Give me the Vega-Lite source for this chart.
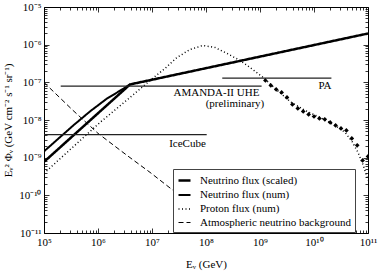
{
  "$schema": "https://vega.github.io/schema/vega-lite/v6.json",
  "width": 324,
  "height": 226,
  "autosize": "none",
  "padding": {"left": 44, "top": 7, "right": 11, "bottom": 40},
  "background": "white",
  "config": {
    "view": {"stroke": "black", "strokeWidth": 1},
    "font": "Liberation Serif",
    "axis": {
      "domain": false,
      "grid": false,
      "tickColor": "black",
      "tickWidth": 0.8,
      "labelColor": "black",
      "labelFont": "Liberation Serif",
      "labelFontSize": 11,
      "titleFont": "Liberation Serif",
      "titleFontSize": 11,
      "titleFontWeight": "normal",
      "titleColor": "black"
    }
  },
  "datasets": {
    "curves": [
      {"series": "Neutrino flux (scaled)", "E": 1e5, "F": 7.74e-10},
      {"series": "Neutrino flux (scaled)", "E": 3.92e6, "F": 8.79e-8},
      {"series": "Neutrino flux (scaled)", "E": 1e11, "F": 1.98e-6},
      {"series": "Neutrino flux (num)", "E": 1e5, "F": 1.47e-9},
      {"series": "Neutrino flux (num)", "E": 3.49e5, "F": 7.19e-9},
      {"series": "Neutrino flux (num)", "E": 7.11e5, "F": 1.69e-8},
      {"series": "Neutrino flux (num)", "E": 1.45e6, "F": 3.67e-8},
      {"series": "Neutrino flux (num)", "E": 2.94e6, "F": 6.76e-8},
      {"series": "Neutrino flux (num)", "E": 3.92e6, "F": 8.79e-8},
      {"series": "Proton flux (num)", "E": 1e5, "F": 3.84e-10},
      {"series": "Proton flux (num)", "E": 1.09e6, "F": 8.63e-9},
      {"series": "Proton flux (num)", "E": 3.92e6, "F": 3.97e-8},
      {"series": "Proton flux (num)", "E": 9.19e6, "F": 1.12e-7},
      {"series": "Proton flux (num)", "E": 1.74e7, "F": 2.34e-7},
      {"series": "Proton flux (num)", "E": 2.9e7, "F": 4.57e-7},
      {"series": "Proton flux (num)", "E": 5.06e7, "F": 7.46e-7},
      {"series": "Proton flux (num)", "E": 8.8e7, "F": 9.53e-7},
      {"series": "Proton flux (num)", "E": 1.47e8, "F": 8.43e-7},
      {"series": "Proton flux (num)", "E": 2.45e8, "F": 5.85e-7},
      {"series": "Proton flux (num)", "E": 4.26e8, "F": 3.81e-7},
      {"series": "Proton flux (num)", "E": 6.53e8, "F": 2.48e-7},
      {"series": "Proton flux (num)", "E": 1.14e9, "F": 1.35e-7},
      {"series": "Proton flux (num)", "E": 1.9e9, "F": 6.89e-8},
      {"series": "Proton flux (num)", "E": 3.59e9, "F": 3.11e-8},
      {"series": "Proton flux (num)", "E": 6.81e9, "F": 1.8e-8},
      {"series": "Proton flux (num)", "E": 1.29e10, "F": 1.17e-8},
      {"series": "Proton flux (num)", "E": 2.45e10, "F": 7.19e-9},
      {"series": "Proton flux (num)", "E": 3.75e10, "F": 4.69e-9},
      {"series": "Proton flux (num)", "E": 5.06e10, "F": 2.7e-9},
      {"series": "Proton flux (num)", "E": 6.53e10, "F": 1.38e-9},
      {"series": "Proton flux (num)", "E": 8.08e10, "F": 6.64e-10},
      {"series": "Proton flux (num)", "E": 1e11, "F": 2.5e-10},
      {"series": "Atmospheric neutrino background", "E": 1e5, "F": 9.93e-8},
      {"series": "Atmospheric neutrino background", "E": 3.44e5, "F": 1.8e-8},
      {"series": "Atmospheric neutrino background", "E": 1e6, "F": 4.42e-9},
      {"series": "Atmospheric neutrino background", "E": 3.44e6, "F": 1.15e-9},
      {"series": "Atmospheric neutrino background", "E": 9.19e6, "F": 4.07e-10},
      {"series": "Atmospheric neutrino background", "E": 2.45e7, "F": 1.36e-10},
      {"series": "Atmospheric neutrino background", "E": 4.26e8, "F": 1.04e-11},
      {"series": "Atmospheric neutrino background", "E": 6.53e8, "F": 6.4e-12}
    ],
    "refs": [
      {"ref": "AMANDA", "E": 2.04e5, "F": 7.9e-8},
      {"ref": "AMANDA", "E": 1.07e9, "F": 7.9e-8},
      {"ref": "PA", "E": 2e8, "F": 1.29e-7},
      {"ref": "PA", "E": 2.1e10, "F": 1.29e-7},
      {"ref": "IceCube", "E": 1e5, "F": 4.07e-9},
      {"ref": "IceCube", "E": 1.03e8, "F": 4.07e-9}
    ],
    "labels": [
      {"label": "AMANDA-II UHE", "E": 1.56e8, "F": 5.08e-8},
      {"label": "(preliminary)", "E": 3.44e8, "F": 2.59e-8},
      {"label": "PA", "E": 1.6e10, "F": 8.04e-8},
      {"label": "IceCube", "E": 4.54e7, "F": 2.35e-9}
    ],
    "points": [
      {"E": 1.259e9, "F": 1.12e-7},
      {"E": 1.585e9, "F": 8.28e-8},
      {"E": 1.995e9, "F": 6.49e-8},
      {"E": 2.512e9, "F": 5.4e-8},
      {"E": 3.162e9, "F": 3.98e-8},
      {"E": 3.981e9, "F": 2.59e-8},
      {"E": 5.012e9, "F": 2.03e-8},
      {"E": 6.31e9, "F": 1.69e-8},
      {"E": 7.943e9, "F": 1.41e-8},
      {"E": 1e10, "F": 1.24e-8},
      {"E": 1.259e10, "F": 1.1e-8},
      {"E": 1.585e10, "F": 1.04e-8},
      {"E": 1.995e10, "F": 8.63e-9},
      {"E": 2.512e10, "F": 7.19e-9},
      {"E": 3.162e10, "F": 5.98e-9},
      {"E": 3.981e10, "F": 5.3e-9},
      {"E": 5.012e10, "F": 3.25e-9},
      {"E": 6.31e10, "F": 2.12e-9},
      {"E": 7.943e10, "F": 8.47e-10},
      {"E": 1e11, "F": 1.08e-9}
    ]
  },
  "resolve": {"axis": {"x": "independent", "y": "independent"}},
  "layer": [
    {
      "data": {"name": "curves"},
      "mark": {"type": "line", "color": "black", "clip": true},
      "encoding": {
        "x": {
          "field": "E", "type": "quantitative",
          "scale": {"type": "log", "domain": [1e5, 1e11], "nice": false},
          "axis": {
            "orient": "bottom",
            "title": "Eᵥ (GeV)",
            "titlePadding": 11,
            "values": [1e5,2e5,3e5,4e5,5e5,6e5,7e5,8e5,9e5,1e6,2e6,3e6,4e6,5e6,6e6,7e6,8e6,9e6,1e7,2e7,3e7,4e7,5e7,6e7,7e7,8e7,9e7,1e8,2e8,3e8,4e8,5e8,6e8,7e8,8e8,9e8,1e9,2e9,3e9,4e9,5e9,6e9,7e9,8e9,9e9,1e10,2e10,3e10,4e10,5e10,6e10,7e10,8e10,9e10,1e11],
            "tickSize": {"condition": {"test": "abs(log(datum.value)/LN10-round(log(datum.value)/LN10))<0.001", "value": -5}, "value": -3},
            "labelPadding": 8,
            "labelFlush": false,
            "labelExpr": "abs(log(datum.value)/LN10-round(log(datum.value)/LN10))<0.001 ? ('10' + (round(log(datum.value)/LN10)==5?'⁵':round(log(datum.value)/LN10)==6?'⁶':round(log(datum.value)/LN10)==7?'⁷':round(log(datum.value)/LN10)==8?'⁸':round(log(datum.value)/LN10)==9?'⁹':round(log(datum.value)/LN10)==10?'¹⁰':'¹¹')) : ''"
          }
        },
        "y": {
          "field": "F", "type": "quantitative",
          "scale": {"type": "log", "domain": [1e-11, 1e-5], "nice": false},
          "axis": {
            "orient": "left",
            "title": "Eᵥ² Φᵥ (GeV cm⁻² s⁻¹ sr⁻¹)",
            "titlePadding": 5,
            "values": [1e-11,2e-11,3e-11,4e-11,5e-11,6e-11,7e-11,8e-11,9e-11,1e-10,2e-10,3e-10,4e-10,5e-10,6e-10,7e-10,8e-10,9e-10,1e-9,2e-9,3e-9,4e-9,5e-9,6e-9,7e-9,8e-9,9e-9,1e-8,2e-8,3e-8,4e-8,5e-8,6e-8,7e-8,8e-8,9e-8,1e-7,2e-7,3e-7,4e-7,5e-7,6e-7,7e-7,8e-7,9e-7,1e-6,2e-6,3e-6,4e-6,5e-6,6e-6,7e-6,8e-6,9e-6,1e-5],
            "tickSize": {"condition": {"test": "abs(log(datum.value)/LN10-round(log(datum.value)/LN10))<0.001", "value": -5}, "value": -3},
            "labelPadding": 8,
            "labelFlush": false,
            "labelExpr": "abs(log(datum.value)/LN10-round(log(datum.value)/LN10))<0.001 ? ('10' + (round(log(datum.value)/LN10)==-5?'⁻⁵':round(log(datum.value)/LN10)==-6?'⁻⁶':round(log(datum.value)/LN10)==-7?'⁻⁷':round(log(datum.value)/LN10)==-8?'⁻⁸':round(log(datum.value)/LN10)==-9?'⁻⁹':round(log(datum.value)/LN10)==-10?'⁻¹⁰':'⁻¹¹')) : ''"
          }
        },
        "strokeDash": {
          "field": "series", "type": "nominal",
          "scale": {
            "domain": ["Neutrino flux (scaled)", "Neutrino flux (num)", "Proton flux (num)", "Atmospheric neutrino background"],
            "range": [[1, 0], [1, 0], [1, 2.5], [5, 3]]
          },
          "legend": {
            "title": null,
            "orient": "none",
            "legendX": 129,
            "legendY": 162,
            "fillColor": "white",
            "strokeColor": "#444",
            "padding": 4,
            "rowPadding": 2,
            "symbolType": "stroke",
            "symbolSize": 144,
            "symbolStrokeColor": "black",
            "labelFont": "Liberation Serif",
            "labelFontSize": 11,
            "labelColor": "black",
            "labelOffset": 8
          }
        },
        "strokeWidth": {
          "field": "series", "type": "nominal",
          "scale": {
            "domain": ["Neutrino flux (scaled)", "Neutrino flux (num)", "Proton flux (num)", "Atmospheric neutrino background"],
            "range": [2.5, 1, 1, 1]
          },
          "legend": {
            "title": null,
            "orient": "none",
            "legendX": 129,
            "legendY": 162,
            "fillColor": "white",
            "strokeColor": "#444",
            "padding": 4,
            "rowPadding": 2,
            "symbolType": "stroke",
            "symbolSize": 144,
            "symbolStrokeColor": "black",
            "labelFont": "Liberation Serif",
            "labelFontSize": 11,
            "labelColor": "black",
            "labelOffset": 8
          }
        }
      }
    },
    {
      "data": {"name": "refs"},
      "mark": {"type": "line", "color": "#222", "strokeWidth": 1.2},
      "encoding": {
        "x": {
          "field": "E", "type": "quantitative",
          "axis": {
            "orient": "top",
            "title": null,
            "labels": false,
            "values": [1e5,2e5,3e5,4e5,5e5,6e5,7e5,8e5,9e5,1e6,2e6,3e6,4e6,5e6,6e6,7e6,8e6,9e6,1e7,2e7,3e7,4e7,5e7,6e7,7e7,8e7,9e7,1e8,2e8,3e8,4e8,5e8,6e8,7e8,8e8,9e8,1e9,2e9,3e9,4e9,5e9,6e9,7e9,8e9,9e9,1e10,2e10,3e10,4e10,5e10,6e10,7e10,8e10,9e10,1e11],
            "tickSize": {"condition": {"test": "abs(log(datum.value)/LN10-round(log(datum.value)/LN10))<0.001", "value": -5}, "value": -3}
          }
        },
        "y": {
          "field": "F", "type": "quantitative",
          "axis": {
            "orient": "right",
            "title": null,
            "labels": false,
            "values": [1e-11,2e-11,3e-11,4e-11,5e-11,6e-11,7e-11,8e-11,9e-11,1e-10,2e-10,3e-10,4e-10,5e-10,6e-10,7e-10,8e-10,9e-10,1e-9,2e-9,3e-9,4e-9,5e-9,6e-9,7e-9,8e-9,9e-9,1e-8,2e-8,3e-8,4e-8,5e-8,6e-8,7e-8,8e-8,9e-8,1e-7,2e-7,3e-7,4e-7,5e-7,6e-7,7e-7,8e-7,9e-7,1e-6,2e-6,3e-6,4e-6,5e-6,6e-6,7e-6,8e-6,9e-6,1e-5],
            "tickSize": {"condition": {"test": "abs(log(datum.value)/LN10-round(log(datum.value)/LN10))<0.001", "value": -5}, "value": -3}
          }
        },
        "detail": {"field": "ref", "type": "nominal"}
      }
    },
    {
      "data": {"name": "labels"},
      "mark": {"type": "text", "font": "Liberation Serif", "fontSize": 11, "color": "black", "align": "center", "baseline": "middle"},
      "encoding": {
        "x": {"field": "E", "type": "quantitative", "axis": null},
        "y": {"field": "F", "type": "quantitative", "axis": null},
        "text": {"field": "label", "type": "nominal"}
      }
    },
    {
      "data": {"name": "points"},
      "mark": {"type": "point", "shape": "diamond", "filled": true, "color": "black", "size": 22, "opacity": 1, "clip": true},
      "encoding": {
        "x": {"field": "E", "type": "quantitative", "axis": null},
        "y": {"field": "F", "type": "quantitative", "axis": null}
      }
    }
  ]
}
